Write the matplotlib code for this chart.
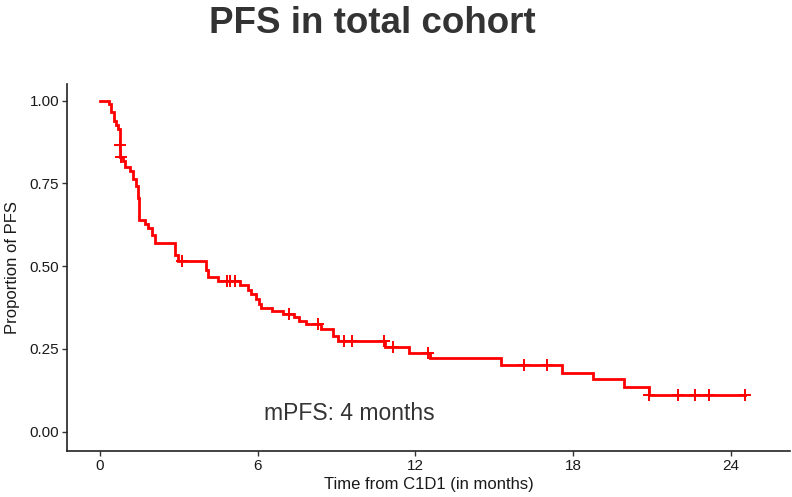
import matplotlib
matplotlib.use("Agg")
import matplotlib.pyplot as plt
import numpy as np

plt.rcParams['font.family'] = ['Liberation Sans', 'DejaVu Sans']

# Kaplan-Meier step points: event times (months) and survival after each drop
event_times = [0.35, 0.44, 0.53, 0.63, 0.70, 0.75, 0.78, 0.89, 0.97, 1.14, 1.26,
               1.37, 1.45, 1.48, 1.71, 1.83, 2.00, 2.11, 2.85, 2.97, 4.02, 4.11,
               4.49, 5.34, 5.63, 5.76, 5.95, 6.05, 6.11, 6.55, 6.96, 7.40, 7.59,
               7.82, 8.41, 8.86, 9.05, 10.85, 11.77, 12.55, 15.24, 17.58, 18.76,
               19.92, 20.87]
surv_after = [0.991, 0.966, 0.937, 0.925, 0.915, 0.866, 0.830, 0.818, 0.798, 0.788,
              0.762, 0.742, 0.707, 0.640, 0.628, 0.615, 0.595, 0.569, 0.534, 0.516,
              0.488, 0.467, 0.454, 0.442, 0.427, 0.415, 0.401, 0.386, 0.374, 0.366,
              0.356, 0.346, 0.335, 0.325, 0.310, 0.290, 0.274, 0.257, 0.239, 0.222,
              0.203, 0.178, 0.158, 0.134, 0.112]
censor_times = [0.76, 0.80, 3.12, 4.83, 4.96, 5.12, 7.21, 8.29, 9.30, 9.59, 10.82,
                11.15, 12.46, 16.13, 17.02, 20.90, 21.98, 22.64, 23.15, 24.52]
last_time = 24.52

x_ticks = [0, 6, 12, 18, 24]
y_ticks = [0.0, 0.25, 0.5, 0.75, 1.0]
y_ticklabels = ["0.00", "0.25", "0.50", "0.75", "1.00"]

t = np.concatenate([[0.0], event_times, [last_time]])
s = np.concatenate([[1.0], surv_after, [surv_after[-1]]])

def surv_at(x):
    idx = np.searchsorted(t[:-1], x, side='right') - 1
    return s[idx]

fig = plt.figure(figsize=(7.92, 4.97), dpi=100)
ax = fig.add_axes([0.0846, 0.0926, 0.9134, 0.7384])

ax.step(t, s, where='post', color='#ff0000', linewidth=2.0, solid_joinstyle='miter')
ax.plot(censor_times, [surv_at(c) for c in censor_times], linestyle='none',
        marker='+', markersize=9, markeredgewidth=1.4, color='#ff0000')

ax.text(9.5, 0.055, "mPFS: 4 months", fontsize=16.5, color='#333333',
        ha='center', va='center')

ax.set_xlim(-1.25, 26.26)
ax.set_ylim(-0.058, 1.05)
ax.set_xticks(x_ticks)
ax.set_yticks(y_ticks)
ax.set_yticklabels(y_ticklabels)
ax.tick_params(axis='both', labelsize=11, labelcolor='#1a1a1a', color='#333333',
               width=1.0, length=3.5, direction='out', pad=2)
for side in ['top', 'right']:
    ax.spines[side].set_visible(False)
for side in ['left', 'bottom']:
    ax.spines[side].set_linewidth(1.2)
    ax.spines[side].set_color('#222222')

ax.set_xlabel("Time from C1D1 (in months)", fontsize=12, color='#1a1a1a', labelpad=3)
ax.set_ylabel("Proportion of PFS", fontsize=12, color='#1a1a1a', labelpad=7)

fig.text(0.47, 0.952, "PFS in total cohort", fontsize=26.5, fontweight='bold',
         color='#333333', ha='center', va='center')

fig.savefig("out.png", dpi=100, facecolor='white')
